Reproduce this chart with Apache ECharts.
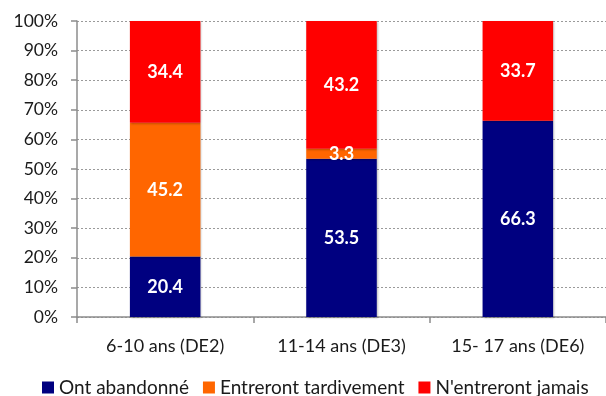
<!DOCTYPE html>
<html>
<head>
<meta charset="utf-8">
<script src="https://cdn.jsdelivr.net/npm/echarts@6/dist/echarts.min.js"></script>
<style>
  html, body { margin: 0; padding: 0; background: #fff; }
  #chart { width: 606px; height: 396px; }
</style>
</head>
<body>
<div id="chart"></div>
<script>
// Age groups and share (%) of children in each schooling situation
const categories = ['6-10 ans (DE2)', '11-14 ans (DE3)', '15- 17 ans (DE6)'];
const seriesNames = ['Ont abandonné', 'Entreront tardivement', "N'entreront jamais"];
const abandonne = [20.4, 53.5, 66.3];
const tardivement = [45.2, 3.3, 0];
const jamais = [34.4, 43.2, 33.7];
const yTicks = [0, 10, 20, 30, 40, 50, 60, 70, 80, 90, 100];

const colors = ['#000080', '#FF6600', '#FF0000'];
const FONT = 'Lato, "Open Sans", sans-serif';

const chart = echarts.init(document.getElementById('chart'), null, { renderer: 'canvas' });

function barSeries(name, values, color) {
  return {
    name: name,
    type: 'bar',
    stack: 'total',
    barWidth: '40%',
    data: values.map(v => (v > 0 ? v : null)),
    itemStyle: {
      color: color,
      shadowColor: 'rgba(0,0,0,0.25)',
      shadowBlur: 2,
      shadowOffsetX: 1,
      shadowOffsetY: 1
    },
    label: {
      show: true,
      position: 'inside',
      color: '#fff',
      fontFamily: FONT,
      fontWeight: 'bold',
      fontSize: 18,
      formatter: p => p.value.toFixed(1)
    }
  };
}

chart.setOption({
  animation: false,
  color: colors,
  grid: { left: 77, top: 21, bottom: 79, width: 532, containLabel: false },
  legend: {
    top: 378,
    left: 42,
    width: 564,
    padding: 0,
    itemWidth: 12,
    itemHeight: 12,
    itemGap: 14,
    icon: 'rect',
    textStyle: { fontFamily: FONT, fontSize: 19, color: '#1a1a1a' },
    data: seriesNames
  },
  xAxis: {
    type: 'category',
    data: categories,
    axisLine: { lineStyle: { color: '#8c8c8c', width: 1.5 } },
    axisTick: { show: true, length: 6, lineStyle: { color: '#8c8c8c', width: 1.5 } },
    axisLabel: { fontFamily: FONT, fontSize: 18, color: '#1a1a1a', margin: 20 }
  },
  yAxis: {
    type: 'value',
    min: yTicks[0],
    max: yTicks[yTicks.length - 1],
    interval: 10,
    axisLine: { show: true, lineStyle: { color: '#8c8c8c', width: 1.5 } },
    axisTick: { show: true, length: 6, lineStyle: { color: '#8c8c8c', width: 1.5 } },
    axisLabel: { fontFamily: FONT, fontSize: 17.5, color: '#1a1a1a', margin: 19, formatter: v => v + '%' },
    splitLine: { lineStyle: { color: '#9a9a9a', type: [2, 2], width: 1 } }
  },
  series: [
    barSeries(seriesNames[0], abandonne, colors[0]),
    barSeries(seriesNames[1], tardivement, colors[1]),
    barSeries(seriesNames[2], jamais, colors[2])
  ]
});
</script>
</body>
</html>
